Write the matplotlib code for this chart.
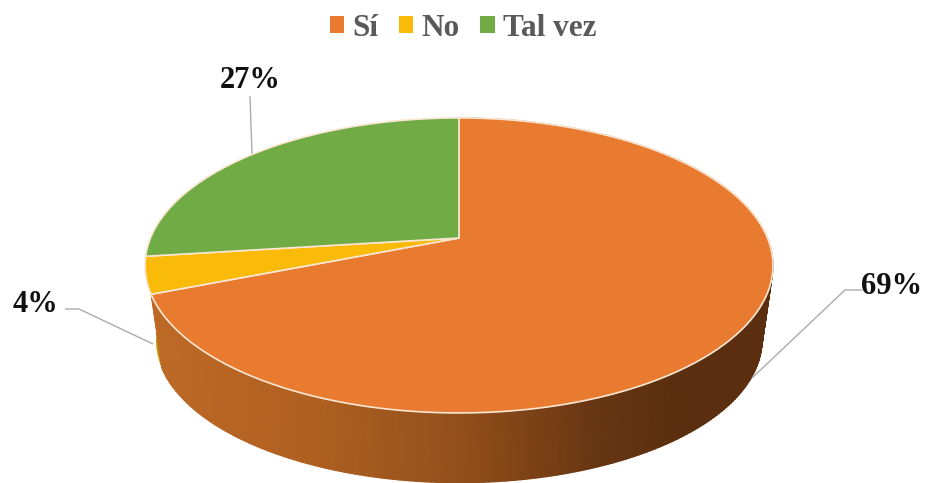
import numpy as np
import matplotlib
matplotlib.use("Agg")
import matplotlib.pyplot as plt
from matplotlib.path import Path
from matplotlib.transforms import Transform, Affine2D
from matplotlib.colors import LinearSegmentedColormap

categories = ["Sí", "No", "Tal vez"]
values = [69, 4, 27]
colors = ["#E97B30", "#F9BA08", "#70AB45"]
side_yellow = "#C89A10"

W, H = 929, 483
CX, CY = 459, 238          # apex of the slices on screen
A, B, K = 308.5, 142.4, 0.186   # perspective of the top face
DEPTH, BOTTOM_SCALE = 76, 0.965


def project(u, v, scale=1.0, dy=0.0):
    d = 1 + K * v
    return CX + scale * A * u / d, CY + dy - scale * B * v / d


class Perspective(Transform):
    input_dims = output_dims = 2
    is_separable = False
    has_inverse = False

    def transform_non_affine(self, values):
        values = np.asarray(values, float)
        x, y = project(values[:, 0], values[:, 1])
        return np.column_stack([x, y])

    def transform_path_non_affine(self, path):
        flat = path.transformed(Affine2D().scale(400)).to_polygons(closed_only=False)[0] / 400
        return Path(self.transform_non_affine(flat))


plt.rcParams["font.family"] = ["Liberation Serif", "DejaVu Serif"]
fig = plt.figure(figsize=(W / 100, H / 100), dpi=100, facecolor="white")
ax = fig.add_axes([0, 0, 1, 1])

wedges, _ = ax.pie(values, colors=colors, startangle=90, counterclock=False,
                   wedgeprops=dict(edgecolor="#FBE6D2", linewidth=1.2))
ax.set(xlim=(0, W), ylim=(H, 0), aspect="auto")
ax.axis("off")
persp = Perspective()
for w in wedges:
    w.set_transform(persp + ax.transData)
    w.set_zorder(5)

# side wall of the slices, built from the same shares
fractions = np.cumsum([0] + values) / sum(values)
angles = np.radians(90 - 360 * fractions)


def wall(t0, t1):
    t = np.linspace(t0, t1, 300)
    u, v = np.cos(t), np.sin(t)
    xt, yt = project(u, v)
    xb, yb = project(u, v, BOTTOM_SCALE, DEPTH)
    return np.vstack([xt, xb]), np.vstack([yt, yb])


wall_cmap = LinearSegmentedColormap.from_list(
    "wall", [(0, "#BF6A27"), (0.28, "#AE5F20"), (0.5, "#93501B"),
             (0.72, "#683612"), (0.85, "#5A2E0E"), (1, "#5A2E0E")])
X, Y = wall(angles[0], angles[1])
ax.pcolormesh(X, Y, X.copy(), shading="gouraud", cmap=wall_cmap, vmin=145, vmax=773, zorder=2)
X2, Y2 = wall(angles[1], angles[2])
ax.fill(np.r_[X2[0], X2[1][::-1]], np.r_[Y2[0], Y2[1][::-1]], color=side_yellow, lw=0, zorder=1)

# leader lines and value labels
leaders = [([862, 845, 752], [290, 290, 378]),
           ([65, 79, 153], [309, 309, 344]),
           ([250, 252], [96, 155])]
label_pos = [(892, 286), (36, 304), (250, 80)]
for v, (lx, ly), pos in zip(values, leaders, label_pos):
    ax.plot(lx, ly, color="#ABABAB", lw=1.0, zorder=3, solid_capstyle="butt")
    ax.text(pos[0], pos[1], f"{v}%", ha="center", va="center", fontsize=22,
            fontweight="bold", color="#111111", zorder=6)

leg = ax.legend(wedges, categories, ncol=3, loc="center", bbox_to_anchor=(463 / W, 1 - 28 / H),
                frameon=False, handlelength=0.47, handleheight=0.47,
                handletextpad=0.26, columnspacing=0.65, borderpad=0, labelspacing=0,
                prop=dict(family="Liberation Serif", weight="bold", size=22.5))
for t in leg.get_texts():
    t.set_color("#595959")
for h in leg.get_patches():
    h.set_edgecolor("none")

fig.savefig("out.png", dpi=100)
